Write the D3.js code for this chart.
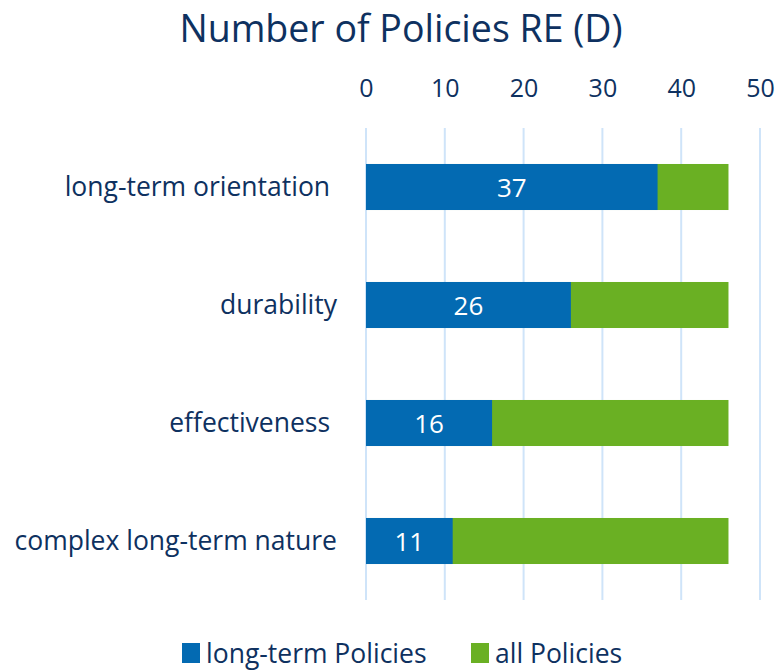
<!DOCTYPE html>
<html>
<head>
<meta charset="utf-8">
<script src="https://cdn.jsdelivr.net/npm/d3@7"></script>
<style>
  body { margin: 0; background: #fff; }
  text { font-family: "Open Sans", sans-serif; white-space: pre; }
</style>
</head>
<body>
<div id="chart"></div>
<script>
var categories = ["long-term orientation ", "durability", "effectiveness ", "complex long-term nature"]
var longTerm = [37, 26, 16, 11]
var allPolicies = [46, 46, 46, 46]
var ticks = [0, 10, 20, 30, 40, 50]
var seriesNames = ["long-term Policies", "all Policies"]

var blue = "#036ab2", green = "#6ab023", ink = "#0e3160", grid = "#cfe4f9"

var width = 777, height = 670

var svg = d3.select("#chart").append("svg")
  .attr("width", width)
  .attr("height", height)

var x = d3.scaleLinear().domain([0, 50]).range([366, 760])
var y = d3.scaleBand().domain(categories).range([128, 600]).paddingInner(0.61).paddingOuter(0.305)

// title
svg.append("text")
  .attr("x", 401).attr("y", 42)
  .attr("text-anchor", "middle")
  .style("font-size", "37.5px").style("fill", ink)
  .text("Number of Policies RE (D)")

// grid lines
svg.selectAll(".grid").data(ticks).enter().append("line")
  .attr("x1", d => x(d)).attr("x2", d => x(d))
  .attr("y1", 128).attr("y2", 600)
  .style("stroke", grid).style("stroke-width", 2)

// top axis
var axis = svg.append("g")
  .attr("transform", "translate(0,97)")
  .call(d3.axisTop(x).tickValues(ticks).tickSize(0).tickPadding(0))
axis.select(".domain").remove()
axis.selectAll("text")
  .style("font-size", "25px").style("fill", ink)
  .style("font-family", "'Open Sans', sans-serif")
  .attr("dy", 0)

// category labels
svg.selectAll(".cat").data(categories).enter().append("text")
  .attr("x", 337)
  .attr("y", d => y(d) + y.bandwidth() / 2 + 9)
  .attr("text-anchor", "end")
  .style("font-size", "26.5px").style("fill", ink)
  .text(d => d)

// all policies (behind)
svg.selectAll(".all").data(categories).enter().append("rect")
  .attr("x", x(0))
  .attr("y", d => y(d))
  .attr("width", (d, i) => x(allPolicies[i]) - x(0))
  .attr("height", y.bandwidth())
  .style("fill", green)

// long-term policies
svg.selectAll(".lt").data(categories).enter().append("rect")
  .attr("x", x(0))
  .attr("y", d => y(d))
  .attr("width", (d, i) => x(longTerm[i]) - x(0))
  .attr("height", y.bandwidth())
  .style("fill", blue)

svg.selectAll(".val").data(categories).enter().append("text")
  .attr("x", (d, i) => (x(0) + x(longTerm[i])) / 2)
  .attr("y", d => y(d) + y.bandwidth() / 2 + 10)
  .attr("text-anchor", "middle")
  .style("font-size", "26px").style("fill", "#fff")
  .text((d, i) => longTerm[i])

// legend
var legendX = [182, 471], colors = [blue, green]
var leg = svg.selectAll(".leg").data(seriesNames).enter().append("g")
  .attr("transform", (d, i) => "translate(" + legendX[i] + ",643)")
leg.append("rect").attr("width", 18).attr("height", 20)
  .style("fill", (d, i) => colors[i])
leg.append("text").attr("x", 24).attr("y", 20)
  .style("font-size", "26.5px").style("fill", ink)
  .text(d => d)
</script>
</body>
</html>
